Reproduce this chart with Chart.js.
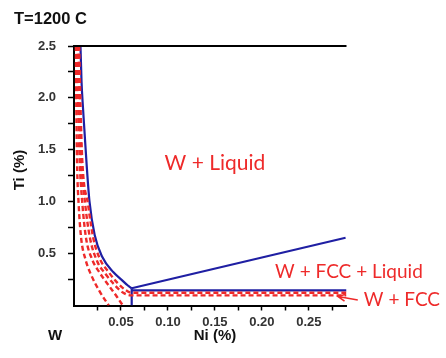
<!DOCTYPE html>
<html>
<head>
<meta charset="utf-8">
<script src="https://cdn.jsdelivr.net/npm/chart.js@4"></script>
<style>
  html, body { margin: 0; padding: 0; background: #fff; }
  #wrap { width: 446px; height: 358px; position: relative; }
</style>
</head>
<body>
<div id="wrap"><canvas id="c" width="446" height="358"></canvas></div>
<script>
// Isothermal section of W-Ni-Ti at 1200 C (compositions in %)
const titleText = 'T=1200 C';
const xTitle = 'Ni (%)';
const yTitle = 'Ti (%)';
const cornerLabel = 'W';

const xTickValues = [0.025, 0.05, 0.075, 0.10, 0.125, 0.15, 0.175, 0.20, 0.225, 0.25, 0.275];
const xTickLabels = ['', '0.05', '', '0.10', '', '0.15', '', '0.20', '', '0.25', ''];
const yTickValues = [0.25, 0.5, 0.75, 1.0, 1.25, 1.5, 1.75, 2.0, 2.25, 2.5];
const yTickLabels = ['', '0.5', '', '1.0', '', '1.5', '', '2.0', '', '2.5'];

// Liquidus boundary W / W + Liquid
const liquidusNi = [0.0069, 0.0080, 0.0096, 0.0110, 0.0135, 0.0165, 0.0220, 0.0300, 0.0420, 0.0510, 0.0570, 0.0614];
const liquidusTi = [2.5, 2.16, 1.90, 1.70, 1.35, 1.00, 0.68, 0.47, 0.32, 0.245, 0.195, 0.166];

// Three-phase triangle edges
const upperEdgeNi = [0.0614, 0.289];
const upperEdgeTi = [0.166, 0.653];
const lowerEdgeNi = [0.0614, 0.29];
const lowerEdgeTi = [0.145, 0.145];
const verticalEdgeNi = [0.0614, 0.0614];
const verticalEdgeTi = [0.166, 0.0];

// Dashed boundaries (other conditions)
const dash1Ni = [0.0020, 0.0025, 0.0032, 0.0050, 0.0076, 0.0120, 0.0180, 0.0270, 0.0370];
const dash1Ti = [2.5, 1.9, 1.4, 0.97, 0.65, 0.45, 0.30, 0.14, 0.0];
const dash2Ni = [0.0035, 0.0045, 0.0060, 0.0090, 0.0128, 0.0190, 0.0270, 0.0380, 0.0460, 0.0520];
const dash2Ti = [2.5, 1.9, 1.4, 0.97, 0.65, 0.45, 0.32, 0.18, 0.08, 0.0];
const dash3Ni = [0.0045, 0.0060, 0.0078, 0.0120, 0.0170, 0.0250, 0.0330, 0.0430, 0.0520, 0.0600, 0.29];
const dash3Ti = [2.5, 1.9, 1.4, 0.97, 0.65, 0.42, 0.31, 0.20, 0.125, 0.098, 0.098];
const dash4Ni = [0.0055, 0.0070, 0.0088, 0.0150, 0.0205, 0.0275, 0.0370, 0.0460, 0.0540, 0.0610, 0.29];
const dash4Ti = [2.5, 1.9, 1.4, 0.97, 0.65, 0.45, 0.32, 0.22, 0.155, 0.123, 0.123];

// Region labels: text, Ni, Ti, font size
const regionText = ['W + Liquid', 'W + FCC + Liquid', 'W + FCC'];
const regionNi = [0.150, 0.2926, 0.349];
const regionTi = [1.37, 0.32, 0.053];
const regionSize = [21, 19, 19];

const BLUE = '#1f1fa3';
const RED = '#ee2a2a';

const pts = (xs, ys) => xs.map((x, i) => ({ x, y: ys[i] }));

function solid(xs, ys, smooth) {
  return { data: pts(xs, ys), borderColor: BLUE, borderWidth: 2.2, pointRadius: 0,
           cubicInterpolationMode: smooth ? 'monotone' : 'default', tension: 0, fill: false };
}
function dashed(xs, ys) {
  return { data: pts(xs, ys), borderColor: RED, borderWidth: 2.4, borderDash: [5, 3], pointRadius: 0,
           cubicInterpolationMode: 'monotone', fill: false };
}

const decorations = {
  id: 'decorations',
  afterDatasetsDraw(chart) {
    const { ctx, chartArea: a, scales: { x, y } } = chart;
    ctx.save();
    // top frame line
    ctx.strokeStyle = '#000';
    ctx.lineWidth = 2;
    ctx.beginPath();
    ctx.moveTo(a.left - 1, a.top);
    ctx.lineTo(a.right, a.top);
    ctx.stroke();

    // title
    ctx.fillStyle = '#111';
    ctx.font = 'bold 16.5px "Liberation Sans", Arial, sans-serif';
    ctx.textAlign = 'left';
    ctx.textBaseline = 'alphabetic';
    ctx.fillText(titleText, 14, 24);

    // axis titles
    ctx.font = 'bold 15px "Liberation Sans", Arial, sans-serif';
    ctx.textAlign = 'center';
    ctx.textBaseline = 'middle';
    ctx.fillText(xTitle, 215, 336);
    ctx.fillText(cornerLabel, 55, 336);
    ctx.save();
    ctx.translate(19.5, 170);
    ctx.rotate(-Math.PI / 2);
    ctx.fillText(yTitle, 0, 0);
    ctx.restore();

    // region labels
    ctx.fillStyle = RED;
    regionText.forEach((t, i) => {
      ctx.font = regionSize[i] + 'px Lato, "Open Sans", sans-serif';
      ctx.fillText(t, x.getPixelForValue(regionNi[i]), y.getPixelForValue(regionTi[i]));
    });

    // arrow pointing to the W + FCC field
    const tx = x.getPixelForValue(0.281), ty = y.getPixelForValue(0.087);
    const sx = x.getPixelForValue(0.302), sy = y.getPixelForValue(0.053);
    ctx.strokeStyle = RED;
    ctx.lineWidth = 1.6;
    ctx.beginPath();
    ctx.moveTo(sx, sy);
    ctx.lineTo(tx, ty);
    const ang = Math.atan2(ty - sy, tx - sx);
    ctx.moveTo(tx + 8 * Math.cos(ang + Math.PI - 0.45), ty + 8 * Math.sin(ang + Math.PI - 0.45));
    ctx.lineTo(tx, ty);
    ctx.lineTo(tx + 8 * Math.cos(ang + Math.PI + 0.45), ty + 8 * Math.sin(ang + Math.PI + 0.45));
    ctx.stroke();
    ctx.restore();
  }
};

new Chart(document.getElementById('c'), {
  type: 'line',
  data: {
    datasets: [
      dashed(dash1Ni, dash1Ti),
      dashed(dash2Ni, dash2Ti),
      dashed(dash3Ni, dash3Ti),
      dashed(dash4Ni, dash4Ti),
      solid(liquidusNi, liquidusTi, true),
      solid(upperEdgeNi, upperEdgeTi),
      solid(lowerEdgeNi, lowerEdgeTi),
      solid(verticalEdgeNi, verticalEdgeTi)
    ]
  },
  options: {
    responsive: false,
    animation: false,
    events: [],
    layout: { padding: { left: 0, right: 99.5, top: 46, bottom: 0 } },
    plugins: { legend: { display: false }, tooltip: { enabled: false }, title: { display: false } },
    scales: {
      x: {
        type: 'linear',
        min: 0,
        max: 0.29,
        afterBuildTicks: s => { s.ticks = xTickValues.map(v => ({ value: v })); },
        afterFit: s => { s.height = 52.5; },
        border: { display: true, color: '#000', width: 2 },
        grid: { drawOnChartArea: false, drawTicks: true, tickLength: 5, tickColor: '#000', tickWidth: 1.5 },
        ticks: {
          padding: 4,
          color: '#333',
          font: { family: '"Liberation Sans", Arial, sans-serif', size: 13, weight: 'bold' },
          callback: (v, i) => xTickLabels[i],
          maxRotation: 0,
          autoSkip: false
        }
      },
      y: {
        type: 'linear',
        min: 0,
        max: 2.5,
        afterBuildTicks: s => { s.ticks = yTickValues.map(v => ({ value: v })); },
        afterFit: s => { s.width = 74; },
        border: { display: true, color: '#000', width: 2 },
        grid: { drawOnChartArea: false, drawTicks: true, tickLength: 6, tickColor: '#000', tickWidth: 1.5 },
        ticks: {
          padding: 12,
          color: '#333',
          font: { family: '"Liberation Sans", Arial, sans-serif', size: 13, weight: 'bold' },
          callback: (v, i) => yTickLabels[i],
          autoSkip: false
        }
      }
    }
  },
  plugins: [decorations]
});
</script>
</body>
</html>
